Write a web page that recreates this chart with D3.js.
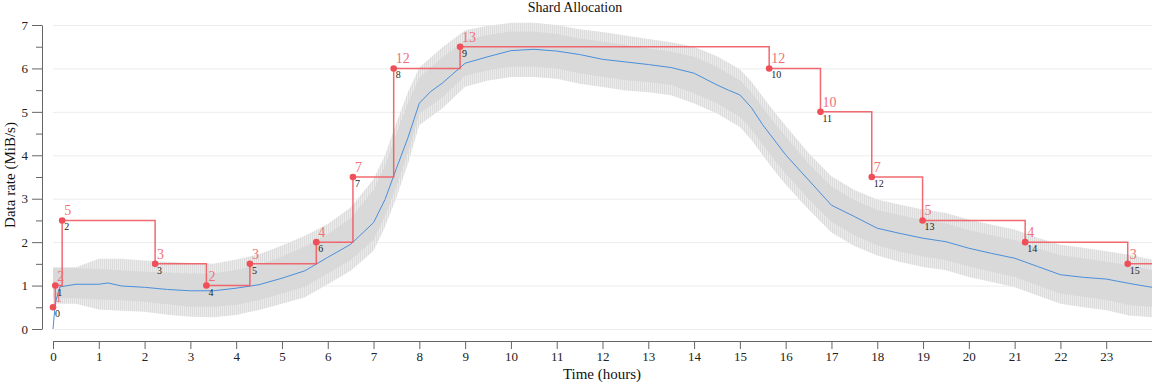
<!DOCTYPE html>
<html>
<head>
<meta charset="utf-8">
<script src="https://cdn.jsdelivr.net/npm/d3@7"></script>
<style>
  body { margin: 0; background: #fff; }
  svg { display: block; font-family: "Liberation Serif", serif; }
</style>
</head>
<body>
<svg id="chart" width="1152" height="384"></svg>
<script>
// shard steps: time (h), allocated rate, shard count
const stepHours = [0, 0.05, 0.2, 2.23, 3.35, 4.3, 5.75, 6.55, 7.44, 8.89, 15.64, 16.76, 17.88, 18.99, 21.23, 23.47];
const stepRate = [0.5, 1, 2.5, 1.5, 1, 1.5, 2, 3.5, 6, 6.5, 6, 5, 3.5, 2.5, 2, 1.5];
const shardCount = [1, 2, 5, 3, 2, 3, 4, 7, 12, 13, 12, 10, 7, 5, 4, 3];

// smoothed data rate (blue)
const meanHours = [0, 0.05, 0.15, 0.5, 1, 1.2, 1.5, 2, 2.5, 3, 3.5, 4, 4.5, 5, 5.5, 6, 6.5, 7, 7.25, 7.5, 7.75, 8, 8.25, 8.5, 9, 9.5, 10, 10.5, 11, 11.5, 12, 12.5, 13, 13.5, 14, 14.5, 14.75, 15, 15.25, 15.5, 16, 16.5, 17, 17.5, 18, 18.5, 19, 19.5, 20, 20.5, 21, 21.5, 22, 22.5, 23, 23.5, 24];
const meanRate = [0, 0.6, 0.97, 1.03, 1.03, 1.06, 0.99, 0.96, 0.91, 0.88, 0.88, 0.94, 1.02, 1.17, 1.34, 1.65, 1.95, 2.45, 2.98, 3.7, 4.4, 5.2, 5.47, 5.66, 6.12, 6.27, 6.41, 6.44, 6.40, 6.32, 6.21, 6.15, 6.09, 6.02, 5.89, 5.62, 5.5, 5.39, 5.1, 4.70, 4.01, 3.43, 2.85, 2.59, 2.32, 2.20, 2.09, 2.01, 1.86, 1.74, 1.63, 1.44, 1.25, 1.19, 1.15, 1.05, 0.96];

// raw rate spread (grey band)
const bandHours = [0, 0.5, 1, 1.5, 2, 2.5, 3, 3.5, 4, 4.5, 5, 5.5, 6, 6.5, 7, 7.25, 7.5, 7.75, 8, 8.5, 9, 9.5, 10, 10.5, 11, 11.5, 12, 12.5, 13, 13.5, 14, 14.5, 15, 15.25, 15.5, 15.75, 16, 16.5, 17, 17.5, 18, 18.5, 19, 19.5, 20, 20.5, 21, 21.5, 22, 22.5, 23, 23.5, 24];
const bandHi = [1.40, 1.40, 1.38, 1.35, 1.32, 1.30, 1.28, 1.28, 1.36, 1.47, 1.67, 1.90, 2.18, 2.55, 3.20, 3.75, 4.51, 5.20, 5.78, 6.25, 6.65, 6.77, 6.85, 6.85, 6.79, 6.69, 6.62, 6.54, 6.46, 6.39, 6.27, 6.04, 5.73, 5.45, 5.10, 4.75, 4.43, 3.81, 3.28, 2.97, 2.74, 2.62, 2.51, 2.43, 2.28, 2.16, 2.05, 1.86, 1.70, 1.63, 1.55, 1.47, 1.36];
const bandLo = [0.71, 0.71, 0.68, 0.66, 0.63, 0.57, 0.51, 0.51, 0.55, 0.67, 0.82, 0.97, 1.28, 1.59, 2.05, 2.60, 3.28, 4.05, 4.95, 5.33, 5.83, 5.96, 6.04, 6.04, 6.00, 5.89, 5.81, 5.73, 5.69, 5.62, 5.43, 5.20, 4.89, 4.60, 4.25, 3.90, 3.58, 3.00, 2.47, 2.16, 1.93, 1.78, 1.67, 1.59, 1.44, 1.32, 1.20, 1.01, 0.82, 0.74, 0.67, 0.55, 0.51];
const spikeHi = [1.42, 1.42, 1.62, 1.62, 1.58, 1.55, 1.52, 1.50, 1.60, 1.72, 1.92, 2.15, 2.42, 2.80, 3.45, 4.00, 4.75, 5.45, 6.02, 6.48, 6.88, 6.98, 7.05, 7.05, 7.00, 6.90, 6.84, 6.76, 6.68, 6.60, 6.50, 6.28, 5.98, 5.70, 5.35, 5.00, 4.68, 4.05, 3.52, 3.20, 2.98, 2.86, 2.75, 2.67, 2.52, 2.40, 2.29, 2.10, 1.94, 1.87, 1.79, 1.71, 1.60];
const spikeLo = [0.58, 0.58, 0.45, 0.42, 0.40, 0.33, 0.28, 0.27, 0.32, 0.44, 0.58, 0.73, 1.03, 1.34, 1.80, 2.35, 3.03, 3.80, 4.70, 5.08, 5.58, 5.72, 5.80, 5.80, 5.76, 5.65, 5.57, 5.49, 5.45, 5.38, 5.19, 4.96, 4.65, 4.36, 4.00, 3.65, 3.33, 2.75, 2.22, 1.91, 1.69, 1.54, 1.43, 1.35, 1.20, 1.08, 0.96, 0.77, 0.58, 0.50, 0.43, 0.31, 0.27];

const hourTicks = d3.range(0, 24);
const rateTicks = d3.range(0, 8);

const svg = d3.select("#chart");
const x = d3.scaleLinear().domain([0, 24]).range([53, 1152]);
const y = d3.scaleLinear().domain([0, 7]).range([329, 25]);

// hatch for the spiky outer part of the band
const pat = svg.append("defs").append("pattern")
    .attr("id", "spikes")
    .attr("patternUnits", "userSpaceOnUse")
    .attr("width", 2).attr("height", 4);
pat.append("rect").attr("width", 2).attr("height", 4).attr("fill", "#ebebeb");
pat.append("rect").attr("width", 1).attr("height", 4).attr("fill", "#dcdcdc");

// grid
svg.append("g")
    .selectAll("line")
    .data(rateTicks)
    .join("line")
    .attr("x1", 53).attr("x2", 1152)
    .attr("y1", d => y(d) + 0.5).attr("y2", d => y(d) + 0.5)
    .attr("stroke", "#ececec");

const plot = svg.append("g");
const band = bandHours.map((t, i) => ({t, hi: bandHi[i], lo: bandLo[i], shi: spikeHi[i], slo: spikeLo[i]}));

plot.append("path")
    .datum(band)
    .attr("fill", "url(#spikes)")
    .attr("d", d3.area().x(d => x(d.t)).y0(d => y(d.slo)).y1(d => y(d.shi)));

plot.append("path")
    .datum(band)
    .attr("fill", "#d9d9d9")
    .attr("d", d3.area().x(d => x(d.t)).y0(d => y(d.lo)).y1(d => y(d.hi)));

const mean = meanHours.map((t, i) => ({t, v: meanRate[i]}));
plot.append("path")
    .datum(mean)
    .attr("fill", "none")
    .attr("stroke", "#4a8fdc")
    .attr("stroke-width", 1)
    .attr("d", d3.line().x(d => x(d.t)).y(d => y(d.v)));

// step line
const steps = stepHours.map((t, i) => ({t, v: stepRate[i], n: shardCount[i], i}));
const stepLine = steps.concat([{t: 24, v: stepRate[stepRate.length - 1]}]);
plot.append("path")
    .datum(stepLine)
    .attr("fill", "none")
    .attr("stroke", "#f05a62")
    .attr("stroke-opacity", 0.9)
    .attr("stroke-width", 1.5)
    .attr("d", d3.line().curve(d3.curveStepAfter).x(d => x(d.t)).y(d => y(d.v)));

plot.selectAll("circle")
    .data(steps)
    .join("circle")
    .attr("cx", d => x(d.t))
    .attr("cy", d => y(d.v))
    .attr("r", 3.3)
    .attr("fill", "#ef4f58");

plot.selectAll("text.count")
    .data(steps)
    .join("text")
    .attr("class", "count")
    .attr("x", d => x(d.t) + 2)
    .attr("y", d => y(d.v) - 5)
    .attr("fill", "#f2707a")
    .style("font-size", "14px")
    .text(d => d.n);

plot.selectAll("text.idx")
    .data(steps)
    .join("text")
    .attr("class", "idx")
    .attr("x", d => x(d.t) + 2)
    .attr("y", d => y(d.v) + 10)
    .attr("fill", "#222")
    .style("font-size", "10px")
    .text(d => d.i);

// axes
const xAxis = svg.append("g")
    .attr("transform", "translate(0,341)")
    .call(d3.axisBottom(x).tickValues(hourTicks).tickSize(8).tickSizeOuter(0).tickFormat(d3.format("d")));

const yAxis = svg.append("g")
    .attr("transform", "translate(42,0)")
    .call(d3.axisLeft(y).tickValues(d3.range(0, 7.5, 0.5)).tickSize(6).tickSizeOuter(0)
        .tickFormat(d => Number.isInteger(d) ? d : ""));
yAxis.selectAll(".tick")
    .filter(d => Number.isInteger(d))
    .select("line")
    .attr("x2", -10);
yAxis.selectAll(".tick text").attr("x", -14);

[xAxis, yAxis].forEach(a => {
    a.selectAll("path, line").attr("stroke", "#666");
    a.selectAll("text")
        .attr("fill", "#222")
        .style("font-family", "Liberation Serif, serif")
        .style("font-size", "13px");
});

svg.append("text")
    .attr("x", 575)
    .attr("y", 12)
    .attr("text-anchor", "middle")
    .style("font-size", "14px")
    .attr("fill", "#111")
    .text("Shard Allocation");

svg.append("text")
    .attr("x", 602)
    .attr("y", 379)
    .attr("text-anchor", "middle")
    .style("font-size", "15px")
    .attr("fill", "#111")
    .text("Time (hours)");

svg.append("text")
    .attr("transform", "translate(15,175) rotate(-90)")
    .attr("text-anchor", "middle")
    .style("font-size", "15px")
    .attr("fill", "#111")
    .text("Data rate (MiB/s)");
</script>
</body>
</html>
